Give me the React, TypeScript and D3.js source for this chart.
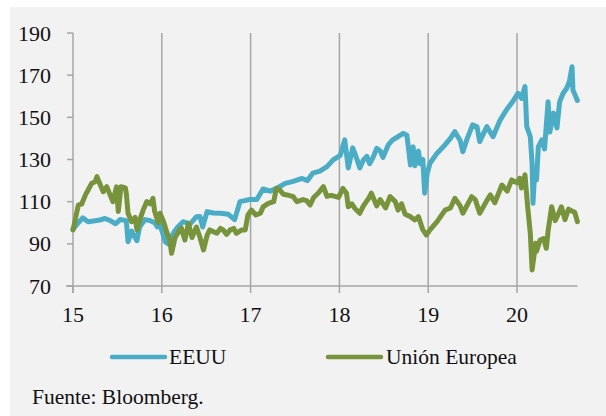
import React from "react";
import * as d3 from "d3";

const yTicks = [70, 90, 110, 130, 150, 170, 190];
const xTicks = [15, 16, 17, 18, 19, 20];

const eeuuT = [15.0,15.06,15.11,15.17,15.23,15.3,15.36,15.42,15.48,15.53,15.6,15.62,15.66,15.72,15.75,15.81,15.87,15.92,15.95,15.98,16.04,16.07,16.13,16.18,16.24,16.32,16.39,16.43,16.46,16.51,16.58,16.66,16.75,16.82,16.88,16.99,17.07,17.14,17.22,17.3,17.39,17.47,17.58,17.64,17.7,17.78,17.86,17.93,18.01,18.06,18.1,18.15,18.19,18.23,18.27,18.31,18.34,18.38,18.42,18.46,18.49,18.55,18.6,18.66,18.72,18.76,18.8,18.83,18.85,18.89,18.91,18.94,18.96,18.99,19.02,19.1,19.17,19.25,19.3,19.36,19.39,19.44,19.5,19.55,19.58,19.66,19.73,19.81,19.88,19.95,20.01,20.05,20.09,20.11,20.15,20.17,20.18,20.2,20.22,20.24,20.28,20.31,20.35,20.37,20.41,20.45,20.48,20.52,20.56,20.59,20.62,20.63,20.65,20.68];
const eeuuV = [97,100,102.3,100.5,100.8,101.3,102,101,99.5,101.5,101,91,96,91.5,98,101.5,101,100,98,99,91,90,95,98,100.5,99.5,102.9,103,98,105.3,104.6,104.5,104,101.5,110,111,111,116,115,116.5,118.7,119.5,121,120,123.5,124.5,126.6,129.8,132,139.3,126,135.5,131,126,129.8,131.5,128,131,135.3,134,131,136.9,139.3,140.8,142.4,141.5,127.4,136,127,134,128,130,114,123.5,128.2,133,136,140,143.2,139,133.7,140,146.4,145.5,138.5,145.6,140.8,148.7,153.5,157.4,161.4,159,164.6,145.6,140.8,128,109.2,125,120.3,136,139.3,135,157.4,143,152,145,157.4,161.4,163.8,167,174,163,161,158];

const ueT = [15.0,15.02,15.06,15.1,15.14,15.17,15.21,15.25,15.27,15.3,15.34,15.38,15.42,15.45,15.49,15.51,15.54,15.59,15.6,15.62,15.66,15.7,15.72,15.75,15.79,15.83,15.87,15.9,15.92,15.96,15.98,16.02,16.06,16.09,16.11,16.15,16.19,16.22,16.26,16.3,16.34,16.39,16.43,16.47,16.51,16.54,16.62,16.66,16.69,16.73,16.77,16.81,16.84,16.9,16.94,16.97,17.01,17.06,17.11,17.14,17.2,17.26,17.29,17.33,17.37,17.41,17.48,17.52,17.59,17.63,17.67,17.71,17.76,17.82,17.86,17.91,17.99,18.04,18.08,18.1,18.14,18.18,18.23,18.27,18.33,18.36,18.42,18.46,18.52,18.57,18.63,18.66,18.7,18.74,18.8,18.85,18.89,18.94,18.98,19.02,19.1,19.19,19.25,19.3,19.36,19.39,19.49,19.53,19.58,19.66,19.7,19.75,19.83,19.89,19.94,20.0,20.03,20.05,20.09,20.12,20.15,20.17,20.21,20.22,20.26,20.3,20.33,20.35,20.39,20.43,20.47,20.5,20.54,20.58,20.62,20.65,20.68];
const ueV = [96.6,100.5,108.4,109,113.2,115.5,118.7,119.5,121.9,118.7,114.7,117.1,113,110,117,105.3,117.1,116.5,114,104.5,100.5,102.5,96.6,101,106,110,109,111.6,105.3,100,104.5,100.5,95,91.8,85.5,93,95.8,97.5,91.8,99.7,93,98,93,87.1,94,96.6,95,97.3,96.6,94.5,96.6,97.3,95,96.6,96.6,103.7,106,103.7,104.5,107.5,109.2,110,116.3,115.5,113.5,113.2,112.4,110,111,110.5,108.4,112,114,117.1,112.5,113,112,116.3,114,107.6,109,106.5,104.5,108,111.6,114,108,111,107,112.4,110,106,109,104,102.9,101.3,102.9,96.6,94.2,96.6,100.5,106,107,111.6,108,104.5,112.4,111,104.5,110.5,113.2,109.5,117.9,115,120.3,119,121.1,116.5,122.7,107.6,95,77.6,90.3,86.5,91.8,92.5,87.9,96,107.6,101,104.5,107.6,101.5,106.5,105.5,105,100.5];

const seriesNames = ["EEUU", "Unión Europea"];
const colors = ["#4bacc6", "#77933c"];

export default function App() {
  const W = 606, H = 416;
  const x = d3.scaleLinear().domain([15, 20]).range([73, 517]);
  const y = d3.scaleLinear().domain([70, 190]).range([286, 33]);
  const line = d3.line<[number, number]>().x(d => x(d[0])).y(d => y(d[1]));
  const eeuu = eeuuT.map((t, i) => [t, eeuuV[i]] as [number, number]);
  const ue = ueT.map((t, i) => [t, ueV[i]] as [number, number]);
  const font = "'Liberation Serif', 'Times New Roman', serif";
  const grid = "#a6a6a6";
  return (
    <svg width={W} height={H} style={{ position: "absolute", left: 0, top: 0 }} fontFamily={font}>
      <rect x={0} y={0} width={W} height={H} fill="#ffffff" />
      <rect x={10} y={7} width={W - 10} height={H - 7} fill="#f2f2f2" />
      {xTicks.slice(1).map(t => (
        <line key={"g" + t} x1={x(t)} x2={x(t)} y1={y(190)} y2={y(70)} stroke={grid} strokeWidth={1.5} />
      ))}
      <line x1={x(15)} x2={x(15)} y1={y(190)} y2={y(70) + 7} stroke={grid} strokeWidth={1.5} />
      <line x1={x(15) - 7} x2={x(20.68)} y1={y(70)} y2={y(70)} stroke={grid} strokeWidth={1.5} />
      {yTicks.map(v => (
        <g key={"y" + v}>
          <line x1={x(15) - 6} x2={x(15)} y1={y(v)} y2={y(v)} stroke={grid} strokeWidth={1.5} />
          <text x={51} y={y(v) + 7.5} textAnchor="end" fontSize={22} fill="#111">{v}</text>
        </g>
      ))}
      {xTicks.map(t => (
        <g key={"x" + t}>
          <line x1={x(t)} x2={x(t)} y1={y(70)} y2={y(70) + 7} stroke={grid} strokeWidth={1.5} />
          <text x={x(t)} y={321.5} textAnchor="middle" fontSize={22} fill="#111">{t}</text>
        </g>
      ))}
      <path d={line(eeuu) || ""} fill="none" stroke={colors[0]} strokeWidth={5} strokeLinejoin="round" strokeLinecap="round" />
      <path d={line(ue) || ""} fill="none" stroke={colors[1]} strokeWidth={5} strokeLinejoin="round" strokeLinecap="round" />
      <line x1={112} x2={165} y1={357} y2={357} stroke={colors[0]} strokeWidth={4.5} strokeLinecap="round" />
      <text x={169} y={363.5} fontSize={21.5} fill="#111">{seriesNames[0]}</text>
      <line x1={328} x2={381} y1={357} y2={357} stroke={colors[1]} strokeWidth={4.5} strokeLinecap="round" />
      <text x={386} y={363.5} fontSize={21.5} fill="#111">{seriesNames[1]}</text>
      <text x={32} y={404} fontSize={21.5} fill="#111">Fuente: Bloomberg.</text>
    </svg>
  );
}
